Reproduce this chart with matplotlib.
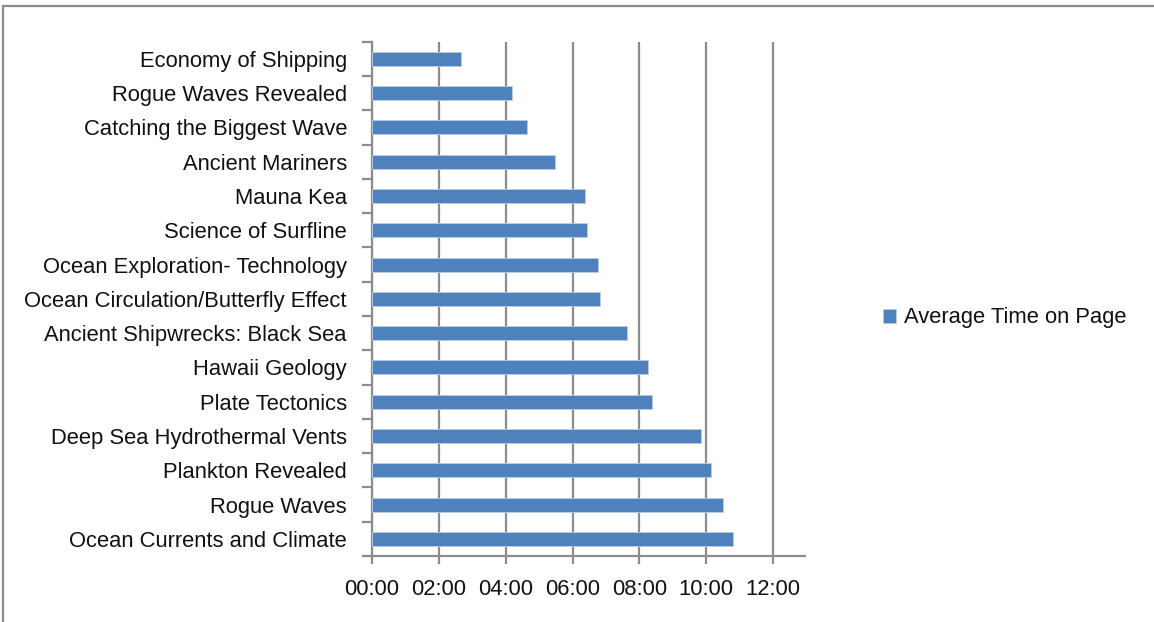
import matplotlib
matplotlib.use("Agg")
import matplotlib.pyplot as plt
from matplotlib.patches import Rectangle
from matplotlib.ticker import FixedLocator, FuncFormatter
from matplotlib import font_manager

# Pages, listed from top to bottom
pages = [
    "Economy of Shipping",
    "Rogue Waves Revealed",
    "Catching the Biggest Wave",
    "Ancient Mariners",
    "Mauna Kea",
    "Science of Surfline",
    "Ocean Exploration- Technology",
    "Ocean Circulation/Butterfly Effect",
    "Ancient Shipwrecks: Black Sea",
    "Hawaii Geology",
    "Plate Tectonics",
    "Deep Sea Hydrothermal Vents",
    "Plankton Revealed",
    "Rogue Waves",
    "Ocean Currents and Climate",
]

# Average time on page (mm:ss)
avg_time = [
    "2:39", "4:11", "4:38", "5:29", "6:22", "6:26", "6:45", "6:49",
    "7:37", "8:16", "8:22", "9:51", "10:08", "10:29", "10:47",
]

series_name = "Average Time on Page"
x_ticks_min = [0, 2, 4, 6, 8, 10, 12]


def to_minutes(s):
    m, sec = s.split(":")
    return int(m) + int(sec) / 60.0


minutes = [to_minutes(t) for t in avg_time]

installed = {f.name for f in font_manager.fontManager.ttflist}
families = [f for f in ["Liberation Sans Narrow", "Liberation Sans", "DejaVu Sans"] if f in installed]
plt.rcParams["font.family"] = families
narrow = "Liberation Sans Narrow" in installed
fs = 18 if narrow else 15.8

W, H = 1154, 622
fig = plt.figure(figsize=(W / 100, H / 100), dpi=100)
fig.patch.set_facecolor("white")

# Outer chart border
fig.patches.append(Rectangle((3 / W, -0.05), 1.2, 1 - 6 / H + 0.05,
                             transform=fig.transFigure, fill=False,
                             edgecolor="#8a8a8a", linewidth=1.6, zorder=0))

ax = fig.add_axes([372 / W, 1 - 556 / H, (805 - 372) / W, (556 - 41.7) / H])

bar_color = "#4f81bd"
ypos = list(range(len(pages)))
ax.barh(ypos, minutes, height=0.41, color=bar_color,
        edgecolor="#b9cde5", linewidth=0.6, zorder=3, label=series_name)

ax.set_ylim(len(pages) - 0.5, -0.5)
ax.set_xlim(0, 12.95)

grid_c = "#8c8c8c"
ax.xaxis.set_major_locator(FixedLocator(x_ticks_min))
ax.xaxis.set_major_formatter(FuncFormatter(lambda v, p: f"{int(v):02d}:00"))
ax.grid(axis="x", color=grid_c, linewidth=1.6, zorder=1)
ax.set_axisbelow(True)

ax.set_yticks(ypos)
ax.set_yticklabels(pages)
ax.yaxis.set_minor_locator(FixedLocator([i - 0.5 for i in range(len(pages) + 1)]))
ax.tick_params(axis="y", which="major", length=0, pad=18, labelsize=fs, labelcolor="#111111")
ax.tick_params(axis="y", which="minor", length=7, width=1.6, color=grid_c, direction="out")
ax.tick_params(axis="x", which="major", length=5.5, width=1.6, color=grid_c, direction="out",
               pad=11, labelsize=fs, labelcolor="#111111")

for s in ["top", "right"]:
    ax.spines[s].set_visible(False)
for s in ["left", "bottom"]:
    ax.spines[s].set_color(grid_c)
    ax.spines[s].set_linewidth(1.6)

leg = fig.legend(loc="center left", bbox_to_anchor=(874 / W, 1 - 318 / H),
                 frameon=False, fontsize=fs, handlelength=0.6, handleheight=0.6,
                 handletextpad=0.35, borderaxespad=0)
for t in leg.get_texts():
    t.set_color("#111111")

fig.savefig("out.png", dpi=100, facecolor="white")
